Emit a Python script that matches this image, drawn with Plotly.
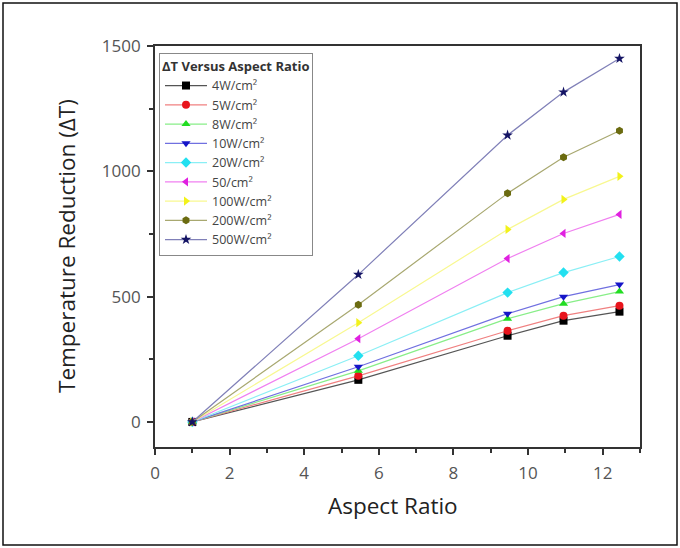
import plotly.graph_objects as go

aspect_ratio = [1, 5.45, 9.45, 10.95, 12.45]

series_names = ["4W/cm²", "5W/cm²", "8W/cm²", "10W/cm²", "20W/cm²",
                "50/cm²", "100W/cm²", "200W/cm²", "500W/cm²"]

dt_4w = [0, 168, 344, 404, 440]
dt_5w = [0, 184, 364, 424, 464]
dt_8w = [0, 204, 412, 472, 520]
dt_10w = [0, 220, 432, 500, 548]
dt_20w = [0, 264, 516, 596, 660]
dt_50w = [0, 332, 652, 752, 828]
dt_100w = [0, 396, 768, 888, 980]
dt_200w = [0, 468, 912, 1056, 1162]
dt_500w = [0, 588, 1144, 1316, 1450]

series_values = [dt_4w, dt_5w, dt_8w, dt_10w, dt_20w, dt_50w, dt_100w, dt_200w, dt_500w]

colors = ["#000000", "#e8141c", "#22dd22", "#1515c8", "#22e0f0",
          "#e020e0", "#f2f21a", "#6b6b10", "#141464"]
line_colors = ["#555555", "#f08080", "#88ee88", "#7070e0", "#8aeff5",
               "#f080f0", "#f8f890", "#a8a870", "#8080b8"]
symbols = ["square", "circle", "triangle-up", "triangle-down", "diamond",
           "triangle-left", "triangle-right", "hexagon", "star"]

fig = go.Figure()
for name, vals, c, lc, s in zip(series_names, series_values, colors, line_colors, symbols):
    fig.add_trace(go.Scatter(
        x=aspect_ratio, y=vals, name=name, mode="lines+markers",
        line=dict(color=lc, width=1.2),
        marker=dict(color=c, symbol=s, size=8, line=dict(width=0)),
    ))

font_family = "Open Sans, Noto Sans, sans-serif"
L, T, PW, PH = 155, 46, 485, 401


def px(xp):
    return (xp - L) / PW


def py(yp):
    return (T + PH - yp) / PH


fig.update_layout(
    width=680, height=548,
    margin=dict(l=L, r=680 - L - PW, t=T, b=548 - T - PH),
    paper_bgcolor="white", plot_bgcolor="white",
    font=dict(family=font_family, color="#333333"),
    legend=dict(
        title=dict(text="<b>ΔT Versus Aspect Ratio</b>", font=dict(size=13, color="#333333")),
        x=px(159), y=py(53), xanchor="left", yanchor="top",
        bordercolor="#888888", borderwidth=1, bgcolor="white",
        font=dict(size=12.5, color="#444444"),
        itemwidth=42,
    ),
    xaxis=dict(
        range=[0, 13], tickvals=[0, 2, 4, 6, 8, 10, 12],
        ticks="outside", ticklen=6, tickwidth=1.5, tickcolor="#333333",
        showline=True, linecolor="#333333", linewidth=1.8, mirror=True,
        showgrid=False, zeroline=False, ticklabelstandoff=4,
        tickfont=dict(size=17, color="#555555"),
        minor=dict(dtick=1, tick0=0, ticks="outside", ticklen=4, tickcolor="#333333", showgrid=False),
    ),
    yaxis=dict(
        range=[-100, 1500], tickvals=[0, 500, 1000, 1500],
        ticks="outside", ticklen=6, tickwidth=1.5, tickcolor="#333333",
        showline=True, linecolor="#333333", linewidth=1.8, mirror=True,
        showgrid=False, zeroline=False, ticklabelstandoff=3,
        tickfont=dict(size=17, color="#555555"),
        minor=dict(dtick=250, tick0=0, ticks="outside", ticklen=4, tickcolor="#333333", showgrid=False),
    ),
    annotations=[
        dict(text="Aspect Ratio", xref="paper", yref="paper", x=px(393), y=py(505),
             showarrow=False, xanchor="center", yanchor="middle",
             font=dict(size=22.5, color="#222222")),
        dict(text="Temperature Reduction (ΔT)", xref="paper", yref="paper", x=px(66), y=py(246),
             showarrow=False, xanchor="center", yanchor="middle", textangle=-90,
             font=dict(size=22.5, color="#222222")),
    ],
    shapes=[dict(type="rect", xref="paper", yref="paper",
                 x0=px(3), x1=px(677), y0=py(545), y1=py(3),
                 line=dict(color="#111111", width=1.5), fillcolor="rgba(0,0,0,0)", layer="below")],
)

fig.write_html("out.html", config={"displayModeBar": False},
               post_script="document.body.style.margin='0';document.body.style.overflow='hidden';")
